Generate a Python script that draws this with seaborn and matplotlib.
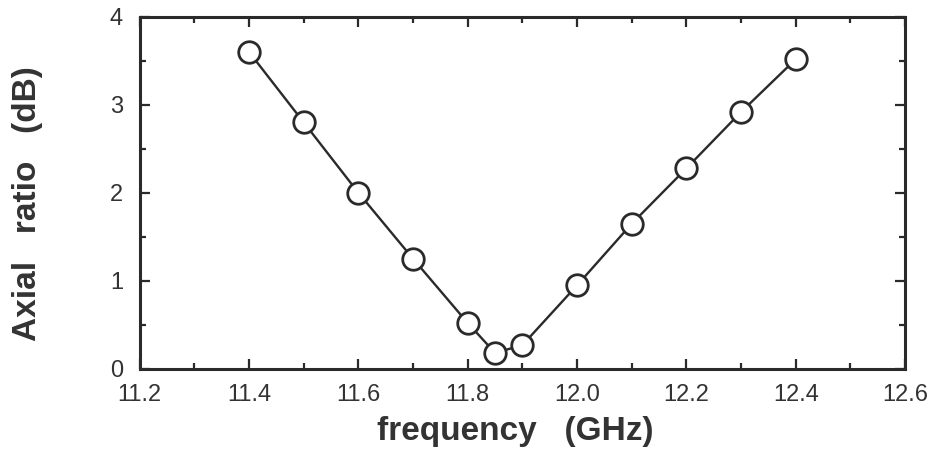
import numpy as np
import pandas as pd
import matplotlib
matplotlib.use("Agg")
import matplotlib.pyplot as plt
import seaborn as sns
from matplotlib.ticker import MultipleLocator

# data
frequency = [11.4, 11.5, 11.6, 11.7, 11.8, 11.85, 11.9, 12.0, 12.1, 12.2, 12.3, 12.4]
axial_ratio = [3.60, 2.80, 2.00, 1.25, 0.52, 0.18, 0.27, 0.95, 1.65, 2.28, 2.92, 3.52]

df = pd.DataFrame({"frequency": frequency, "axial_ratio": axial_ratio})

sns.set_style("ticks")
plt.rcParams["font.family"] = ["Liberation Sans", "DejaVu Sans"]

fig = plt.figure(figsize=(9.38, 4.57), dpi=100)
ax = fig.add_axes([0.149, 0.193, 0.816, 0.770])

sns.lineplot(data=df, x="frequency", y="axial_ratio", ax=ax, color="#2a2a2a",
             linewidth=1.7, marker="o", markersize=15.5, markerfacecolor="white",
             markeredgecolor="#2a2a2a", markeredgewidth=2.0)

ax.set_xlim(11.2, 12.6)
ax.set_ylim(0, 4)
ax.xaxis.set_major_locator(MultipleLocator(0.2))
ax.xaxis.set_minor_locator(MultipleLocator(0.1))
ax.yaxis.set_major_locator(MultipleLocator(1))
ax.yaxis.set_minor_locator(MultipleLocator(0.5))
ax.set_xticks(ax.get_xticks())
ax.set_xticklabels([f"{v:.1f}" for v in ax.get_xticks()])
ax.set_xlim(11.2, 12.6)

ax.tick_params(which="both", direction="in", top=True, right=True,
               color="#2a2a2a", width=1.6)
ax.tick_params(which="major", length=7.5, labelsize=17, labelcolor="#333333")
ax.tick_params(which="minor", length=4.5)
ax.tick_params(axis="x", pad=11)
ax.tick_params(axis="y", pad=12)

for side in ax.spines.values():
    side.set_linewidth(2.2)
    side.set_color("#2a2a2a")

ax.set_xlabel("frequency   (GHz)", fontsize=24, fontweight="bold", color="#333333")
ax.set_ylabel("Axial   ratio   (dB)", fontsize=24, fontweight="bold", color="#333333")
ax.xaxis.set_label_coords(0.49, -0.135)
ax.yaxis.set_label_coords(-0.127, 0.47)

fig.savefig("out.png", dpi=100)
